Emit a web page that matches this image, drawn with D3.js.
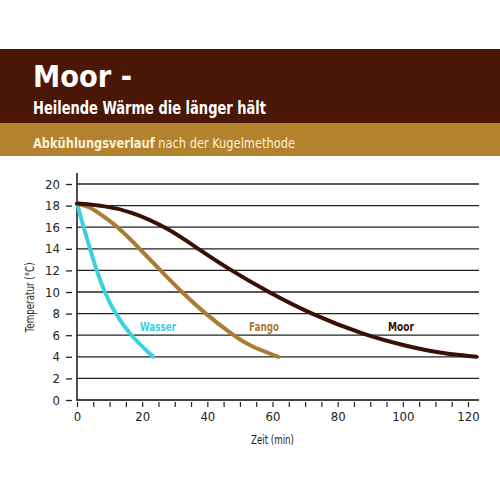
<!DOCTYPE html>
<html>
<head>
<meta charset="utf-8">
<script src="https://cdn.jsdelivr.net/npm/d3@7"></script>
<style>
  body { margin: 0; background: #fff; }
  svg { display: block; font-stretch: condensed; }
</style>
</head>
<body>
<script>
// values: minute, temperature (°C)
const wasserMin  = [0, 2.0, 4.0, 6.0, 8.4, 11.7, 16.3, 23.4]
const wasserTemp = [18.2, 16, 14, 12, 10, 8, 6, 4]

const fangoMin  = [0, 4, 8.1, 12.7, 19.3, 25.6, 32.1, 39.3, 47.9, 53, 61.8]
const fangoTemp = [18.2, 17.9, 17, 16, 14, 12, 10, 8, 6, 5, 4]

const moorMin  = [0, 8, 16.3, 27.5, 37.2, 47.2, 58.7, 71.5, 88.3, 101, 112, 122.6]
const moorTemp = [18.2, 18, 17.5, 16, 14, 12, 10, 8, 6, 5, 4.3, 4]

const seriesNames = ["Wasser", "Fango", "Moor"]
const yTicks = [0, 2, 4, 6, 8, 10, 12, 14, 16, 18, 20]
const xLabels = [0, 20, 40, 60, 80, 100, 120]
const xMinor = d3.range(0, 125, 5)

const width = 500, height = 500
const font = "'DejaVu Sans Condensed', 'DejaVu Sans', sans-serif"

const svg = d3.select("body").append("svg")
    .attr("width", width).attr("height", height)
    .style("font-family", font)

// header bands
svg.append("rect").attr("x", 0).attr("y", 49).attr("width", width).attr("height", 74).attr("fill", "#4a1706")
svg.append("rect").attr("x", 0).attr("y", 123).attr("width", width).attr("height", 33).attr("fill", "#b3822f")

svg.append("text").attr("x", 33).attr("y", 87)
    .attr("fill", "#fff").attr("font-size", 31).attr("font-weight", "bold")
    .attr("textLength", 99).attr("lengthAdjust", "spacingAndGlyphs")
    .text("Moor -")
svg.append("text").attr("x", 33).attr("y", 114)
    .attr("fill", "#fff").attr("font-size", 17).attr("font-weight", "bold")
    .attr("textLength", 233).attr("lengthAdjust", "spacingAndGlyphs")
    .text("Heilende Wärme die länger hält")
const sub = svg.append("text").attr("x", 33).attr("y", 148)
    .attr("fill", "#fbf0cf").attr("font-size", 14)
    .attr("textLength", 262).attr("lengthAdjust", "spacingAndGlyphs")
sub.append("tspan").attr("font-weight", "bold").text("Abkühlungsverlauf")
sub.append("tspan").text(" nach der Kugelmethode")

// chart
const x = d3.scaleLinear().domain([0, 120]).range([77, 468])
const y = d3.scaleLinear().domain([0, 20]).range([400, 184])

// gridlines
svg.append("g").selectAll("line").data(yTicks).join("line")
    .attr("x1", x(0)).attr("x2", 479)
    .attr("y1", d => y(d)).attr("y2", d => y(d))
    .attr("stroke", d => d === 0 ? "#444" : "#222")
    .attr("stroke-width", d => d === 0 ? 2 : 1.3)

// y axis
const gy = svg.append("g").attr("transform", `translate(72,0)`)
    .call(d3.axisLeft(y).tickValues(yTicks).tickSize(6).tickPadding(6))
gy.select(".domain").remove()
gy.selectAll("line").attr("stroke", "#222").attr("stroke-width", 1.3)
gy.selectAll("text").attr("font-size", 13).attr("fill", "#222").style("font-family", font)

svg.append("line").attr("x1", x(0)).attr("x2", x(0)).attr("y1", 173).attr("y2", 401)
    .attr("stroke", "#222").attr("stroke-width", 1.6)

// x axis, minor ticks every 5 min, set apart from the axis line
const gx = svg.append("g").attr("transform", `translate(0,402)`)
    .call(d3.axisBottom(x).tickValues(xMinor).tickSize(5).tickPadding(5)
        .tickFormat(d => xLabels.includes(d) ? d : ""))
gx.select(".domain").remove()
gx.selectAll("line").attr("stroke", "#222").attr("stroke-width", 1.2)
gx.selectAll("text").attr("font-size", 13).attr("fill", "#222").style("font-family", font)

svg.append("text").attr("x", x(60)).attr("y", 444).attr("text-anchor", "middle")
    .attr("font-size", 12).attr("fill", "#222")
    .attr("textLength", 43).attr("lengthAdjust", "spacingAndGlyphs")
    .text("Zeit (min)")
svg.append("text")
    .attr("transform", `translate(34,${y(9.5)}) rotate(-90)`)
    .attr("text-anchor", "middle").attr("font-size", 12).attr("fill", "#222")
    .attr("textLength", 70).attr("lengthAdjust", "spacingAndGlyphs")
    .text("Temperatur (°C)")

// curves
const line = d3.line().x(d => x(d[0])).y(d => y(d[1])).curve(d3.curveBasis)
const series = [
    { name: seriesNames[0], min: wasserMin, temp: wasserTemp, color: "#3dd0de", lx: 158, lw: 36 },
    { name: seriesNames[1], min: fangoMin, temp: fangoTemp, color: "#a97b35", lx: 264, lw: 30 },
    { name: seriesNames[2], min: moorMin, temp: moorTemp, color: "#3a0f06", lx: 401, lw: 26 }
]
series.forEach(s => {
    svg.append("path")
        .datum(s.min.map((m, i) => [m, s.temp[i]]))
        .attr("d", line)
        .attr("fill", "none")
        .attr("stroke", s.color)
        .attr("stroke-width", 4)
        .attr("stroke-linecap", "round")
    svg.append("text").attr("x", s.lx).attr("y", 331).attr("text-anchor", "middle")
        .attr("font-size", 13).attr("font-weight", "bold").attr("fill", s.color)
        .attr("textLength", s.lw).attr("lengthAdjust", "spacingAndGlyphs")
        .text(s.name)
})
</script>
</body>
</html>
